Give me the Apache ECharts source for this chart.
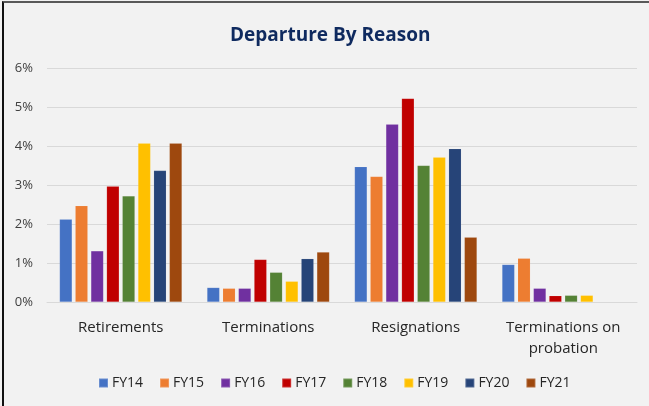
<!DOCTYPE html>
<html>
<head>
<meta charset="utf-8">
<script src="https://cdn.jsdelivr.net/npm/echarts@6/dist/echarts.min.js"></script>
<style>
  html, body { margin: 0; padding: 0; background: #f2f2f2; }
  #chart { position: absolute; left: 0; top: 0; width: 649px; height: 406px; }
  .frame {
    position: absolute; left: 2px; top: 1px; width: 660px; height: 420px;
    border-top: 2px solid #595959; border-left: 2px solid #111;
    pointer-events: none;
  }
</style>
</head>
<body>
<div id="chart"></div>
<div class="frame"></div>
<script>
// reasons along the x axis
const categories = ['Retirements', 'Terminations', 'Resignations', 'Terminations on\nprobation']
const yTicks = [0, 1, 2, 3, 4, 5, 6]

// departure rate in %, one array per fiscal year
const fy14 = [2.12, 0.37, 3.47, 0.96]
const fy15 = [2.47, 0.35, 3.22, 1.12]
const fy16 = [1.31, 0.35, 4.56, 0.35]
const fy17 = [2.97, 1.09, 5.22, 0.16]
const fy18 = [2.72, 0.76, 3.50, 0.17]
const fy19 = [4.07, 0.53, 3.71, 0.17]
const fy20 = [3.37, 1.11, 3.93, null]
const fy21 = [4.07, 1.28, 1.66, null]

const seriesNames = ['FY14', 'FY15', 'FY16', 'FY17', 'FY18', 'FY19', 'FY20', 'FY21']
const seriesData = [fy14, fy15, fy16, fy17, fy18, fy19, fy20, fy21]
const colors = ['#4472c4', '#ed7d31', '#7030a0', '#c00000', '#548235', '#ffc000', '#264478', '#9e480e']

const font = '"Open Sans", "Noto Sans", sans-serif'
const chart = echarts.init(document.getElementById('chart'))

chart.setOption({
  backgroundColor: '#f2f2f2',
  color: colors,
  textStyle: { fontFamily: font },
  title: {
    text: 'Departure By Reason',
    left: 225,
    top: 21,
    textStyle: { fontFamily: font, fontSize: 19, fontWeight: 'bold', color: '#0f2a5f' },
  },
  legend: {
    bottom: 11,
    left: 93,
    itemWidth: 9,
    itemHeight: 9,
    itemGap: 16,
    icon: 'rect',
    textStyle: { fontFamily: font, fontSize: 14, color: '#262626', padding: [0, 0, 0, -1] },
    data: seriesNames,
  },
  grid: { left: 47, right: 12, top: 68, bottom: 104 },
  xAxis: {
    type: 'category',
    data: categories,
    axisTick: { show: false },
    axisLine: { lineStyle: { color: '#d9d9d9', width: 1 } },
    axisLabel: {
      fontFamily: font, fontSize: 15, color: '#262626', margin: 15,
      lineHeight: 21, interval: 0,
    },
  },
  yAxis: {
    type: 'value',
    min: yTicks[0],
    max: yTicks[yTicks.length - 1],
    interval: 1,
    axisLine: { show: false },
    axisTick: { show: false },
    splitLine: { lineStyle: { color: '#d9d9d9', width: 1 } },
    axisLabel: { fontFamily: font, fontSize: 13, color: '#404040', margin: 14, formatter: '{value}%' },
  },
  series: seriesNames.map((name, i) => ({
    name,
    type: 'bar',
    data: seriesData[i],
    barGap: '25%',
    barCategoryGap: '17%',
    itemStyle: { color: colors[i], borderColor: 'rgba(255,255,255,0.2)', borderWidth: 0.5 },
  })),
})
</script>
</body>
</html>
